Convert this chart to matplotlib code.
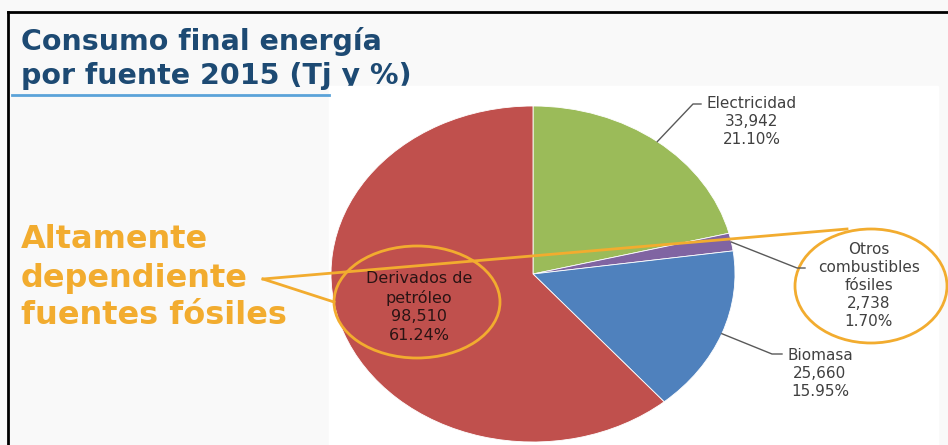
import numpy as np
import matplotlib
matplotlib.use("Agg")
import matplotlib.pyplot as plt
from matplotlib.patches import Ellipse, Rectangle

W, H = 948, 445

# data (Tj), clockwise from 12 o'clock
categories = ["Electricidad", "Otros\ncombustibles\nfósiles", "Biomasa", "Derivados de\npetróleo"]
values_tj = [33942, 2738, 25660, 98510]
colors = ["#9BBB59", "#8064A2", "#4F81BD", "#C0504D"]

title_lines = ["Consumo final energía", "por fuente 2015 (Tj y %)"]
callout_lines = ["Altamente", "dependiente", "fuentes fósiles"]

# pie geometry in pixels (the pie is stretched horizontally in the slide)
CX, CY, RX, RY = 533, 274, 202, 168
ORANGE = "#F2AC2F"
GREY = "#595959"

fig = plt.figure(figsize=(W / 100, H / 100), dpi=100)
fig.patch.set_facecolor("#f9f9f9")


def px_axes(z):
    ax = fig.add_axes([0, 0, 1, 1], zorder=z)
    ax.set_xlim(0, W)
    ax.set_ylim(H, 0)
    ax.axis("off")
    ax.patch.set_alpha(0)
    return ax


# background: slide title, frame, white chart box
bg = px_axes(0)
for i, line in enumerate(title_lines):
    bg.text(21, 42 + i * 34, line, fontsize=20.5, fontweight="heavy",
            color="#1d4a73", va="center", ha="left", zorder=2)
bg.add_patch(Rectangle((329, 86), 609, 360, color="white", zorder=5))
bg.plot([12, 329], [95, 95], color="#5ba3d9", lw=2, zorder=6)
bg.plot([8, 8], [12, H], color="black", lw=2, zorder=6)
bg.plot([8, W], [12, 12], color="black", lw=2, zorder=6)
for i, line in enumerate(callout_lines):
    bg.text(21, 240 + i * 38, line, fontsize=23, fontweight="bold",
            color=ORANGE, va="center", ha="left", zorder=6)

# pie
pie_ax = fig.add_axes([(CX - RX) / W, (H - CY - RY) / H, 2 * RX / W, 2 * RY / H], zorder=1)
pie_ax.pie(values_tj, colors=colors, startangle=90, counterclock=False,
           wedgeprops=dict(edgecolor="white", linewidth=0.6))
pie_ax.set_xlim(-1, 1)
pie_ax.set_ylim(-1, 1)
pie_ax.set_aspect("auto")
pie_ax.axis("off")

total = sum(values_tj)
pcts = [v / total * 100 for v in values_tj]
labels = [f"{c}\n{v:,}\n{p:.2f}%" for c, v, p in zip(categories, values_tj, pcts)]

# mid angle of each wedge -> point on the pie edge (pixels)
cum = np.cumsum([0] + pcts)
mids = [np.deg2rad(90 - (cum[i] + pcts[i] / 2) * 3.6) for i in range(len(pcts))]
edge_pts = [(CX + RX * np.cos(a), CY - RY * np.sin(a)) for a in mids]

ov = px_axes(2)

# outside labels with leader lines: (text x, text y, elbow x, elbow y, end x)
label_pos = {
    0: (752, 121, 693, 104, 701),
    1: (869, 286, 797, 268, 805),
    2: (820, 373, 772, 354, 782),
}
for i, (tx, ty, ex, ey, hx) in label_pos.items():
    sx, sy = edge_pts[i]
    ov.plot([sx, ex, hx], [sy, ey, ey], color=GREY, lw=1)
    ov.text(tx, ty, labels[i], ha="center", va="center", fontsize=11,
            color="#404040", linespacing=1.25)

# inside label for the red slice
ov.text(419, 307, labels[3], ha="center", va="center", fontsize=11.5,
        color="#2a1414", linespacing=1.3)

# orange call-out
ov.add_patch(Ellipse((417, 302), 166, 112, fill=False, ec=ORANGE, lw=2))
ov.add_patch(Ellipse((871, 286), 152, 114, fill=False, ec=ORANGE, lw=2))
ov.plot([263, 847], [279, 229], color=ORANGE, lw=2)
ov.plot([263, 334], [279, 302], color=ORANGE, lw=2)

fig.savefig("out.png", dpi=100, facecolor=fig.get_facecolor())
